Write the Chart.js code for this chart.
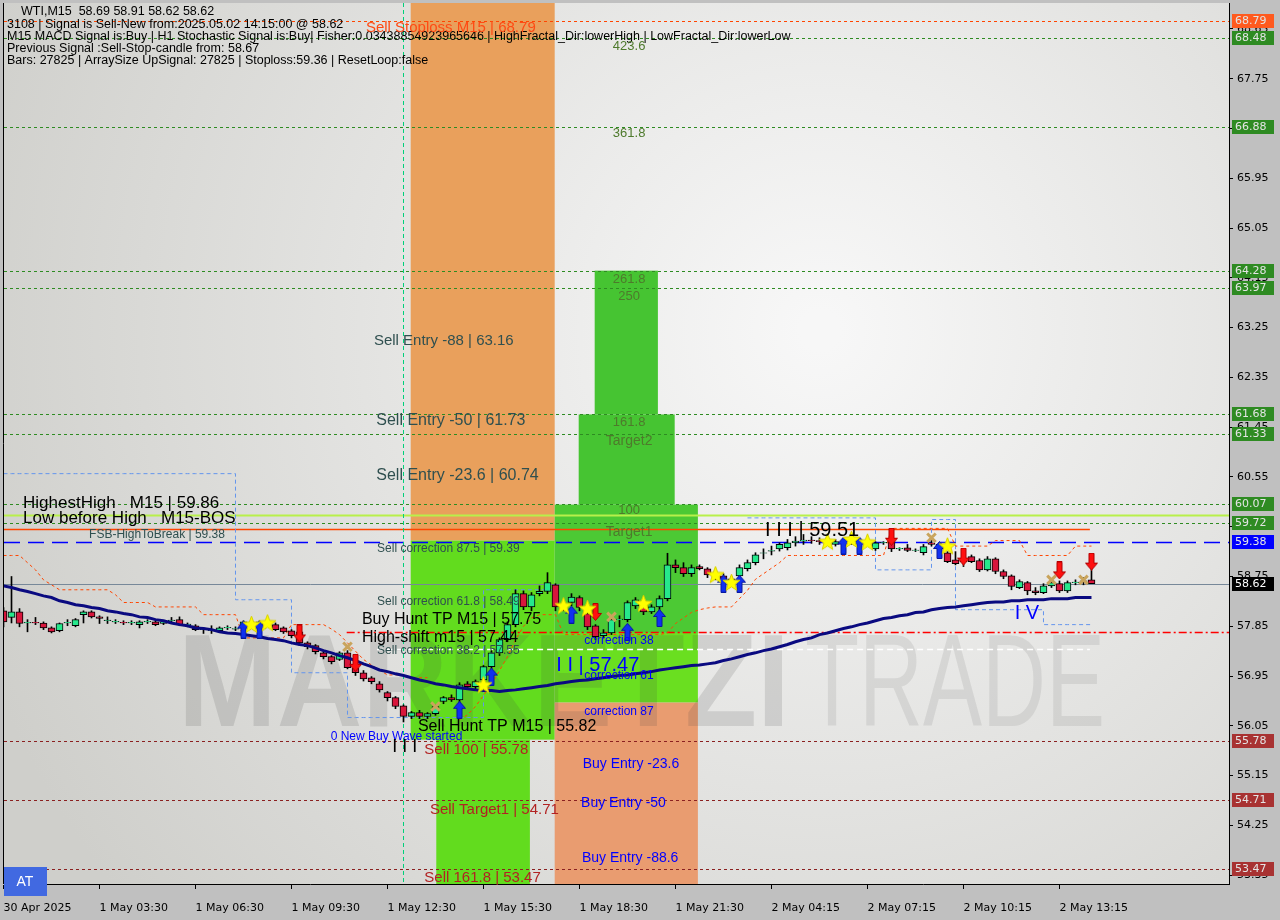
<!DOCTYPE html>
<html><head><meta charset="utf-8">
<script src="https://cdn.jsdelivr.net/npm/chart.js@4.4.1/dist/chart.umd.min.js"></script>
<style>html,body{margin:0;padding:0;background:#c0c0c0;overflow:hidden}#wrap{width:1280px;height:920px}</style>
</head><body><div id="wrap"><canvas id="c" width="1280" height="920"></canvas></div>
<script>
// ---------- DATA ----------
const opens=[58.13,58.01,58.11,57.91,57.92,57.91,57.82,57.77,57.91,57.86,
58.06,58.11,58.02,57.95,57.93,57.92,57.91,57.88,57.93,57.93,
57.90,57.95,57.97,57.88,57.86,57.79,57.77,57.77,57.82,57.80,
57.84,57.90,57.88,57.93,57.88,57.82,57.77,57.75,57.55,57.50,
57.37,57.30,57.25,57.37,57.10,57.01,56.92,56.81,56.65,56.56,
56.41,56.22,56.29,56.22,56.27,56.49,56.56,56.52,56.81,56.76,
56.88,57.12,57.37,57.61,57.88,58.44,58.20,58.44,58.48,58.60,
58.22,58.28,58.37,58.08,57.86,57.68,57.73,57.97,57.97,58.22,
58.20,58.11,58.20,58.35,58.96,58.91,58.80,58.93,58.89,58.76,
58.76,58.69,58.76,58.89,59.00,59.17,59.21,59.25,59.27,59.36,
59.39,59.41,59.40,59.38,59.33,59.38,59.37,59.40,59.38,59.25,
59.36,59.38,59.25,59.27,59.22,59.18,59.36,59.25,59.18,59.05,
59.05,59.11,59.04,58.87,59.07,58.84,58.76,58.55,58.64,58.49,
58.46,58.58,58.62,58.49,58.64,58.65,58.69];
const highs=[58.19,58.75,58.17,57.97,58.01,57.93,57.84,57.91,57.97,57.99,
58.13,58.13,58.04,58.02,57.97,57.95,57.95,57.95,57.97,57.95,
57.95,58.01,58.02,57.91,57.88,57.82,57.86,57.84,57.86,57.84,
57.95,57.97,57.95,57.99,57.91,57.84,57.79,57.77,57.57,57.52,
57.39,57.32,57.39,57.41,57.12,57.05,56.94,56.85,56.67,56.58,
56.43,56.31,56.33,56.29,56.43,56.58,56.61,56.83,56.85,56.88,
57.14,57.41,57.64,57.93,58.51,58.49,58.46,58.58,58.82,58.62,
58.29,58.44,58.40,58.10,57.88,57.79,58.00,58.04,58.31,58.37,
58.26,58.24,58.40,59.17,59.05,59.00,58.96,58.96,58.91,58.82,
58.80,58.75,58.96,59.05,59.18,59.25,59.30,59.36,59.42,59.47,
59.51,59.47,59.45,59.44,59.42,59.43,59.44,59.43,59.42,59.38,
59.38,59.42,59.27,59.33,59.25,59.33,59.40,59.35,59.20,59.20,
59.07,59.14,59.07,59.11,59.09,58.87,58.78,58.69,58.66,58.55,
58.62,58.67,58.67,58.67,58.69,58.73,58.91];
const lows=[57.84,57.91,57.84,57.75,57.88,57.79,57.73,57.75,57.86,57.84,
57.91,58.00,57.90,57.90,57.90,57.88,57.88,57.82,57.90,57.86,
57.88,57.93,57.86,57.84,57.77,57.72,57.72,57.75,57.79,57.77,
57.82,57.86,57.84,57.88,57.77,57.72,57.64,57.50,57.44,57.35,
57.26,57.17,57.23,57.08,56.96,56.86,56.81,56.66,56.50,56.36,
56.12,56.18,56.18,56.18,56.24,56.45,56.49,56.40,56.74,56.72,
56.85,57.08,57.32,57.57,57.84,58.15,58.13,58.40,58.44,58.13,
58.13,58.22,58.13,57.79,57.61,57.64,57.70,57.84,57.93,58.17,
58.06,58.08,58.15,58.31,58.82,58.75,58.75,58.87,58.73,58.69,
58.64,58.62,58.73,58.85,58.96,59.07,59.14,59.21,59.23,59.30,
59.33,59.35,59.33,59.32,59.30,59.32,59.33,59.33,59.32,59.22,
59.33,59.20,59.22,59.20,59.20,59.14,59.30,59.20,59.00,58.96,
58.93,59.00,58.84,58.85,58.80,58.71,58.51,58.53,58.42,58.42,
58.44,58.55,58.46,58.46,58.60,58.60,58.62];
const closes=[57.93,58.11,57.90,57.92,57.91,57.82,57.75,57.90,57.92,57.97,
58.11,58.02,57.99,57.96,57.94,57.91,57.92,57.93,57.94,57.88,
57.93,57.96,57.88,57.89,57.79,57.80,57.78,57.82,57.83,57.81,
57.93,57.88,57.93,57.94,57.79,57.75,57.68,57.55,57.48,57.39,
57.30,57.21,57.37,57.10,57.01,56.90,56.85,56.70,56.56,56.40,
56.22,56.29,56.22,56.27,56.40,56.56,56.52,56.79,56.76,56.85,
57.12,57.37,57.61,57.88,58.44,58.20,58.42,58.48,58.64,58.20,
58.24,58.38,58.19,57.84,57.66,57.73,57.97,57.98,58.28,58.33,
58.11,58.20,58.35,58.96,58.91,58.80,58.91,58.89,58.78,58.75,
58.69,58.71,58.91,59.00,59.14,59.18,59.22,59.33,59.36,59.39,
59.41,59.40,59.38,59.40,59.38,59.37,59.40,59.38,59.36,59.36,
59.37,59.25,59.26,59.22,59.23,59.29,59.33,59.33,59.02,58.98,
59.02,59.02,58.87,59.07,58.84,58.75,58.57,58.66,58.49,58.46,
58.58,58.64,58.49,58.64,58.65,58.67,58.62];
const maValues=[58.58,58.55,58.51,58.48,58.44,58.40,58.37,58.31,58.28,58.24,
58.22,58.19,58.17,58.13,58.11,58.08,58.06,58.02,58.01,57.97,
57.95,57.91,57.88,57.86,57.82,57.81,57.79,57.75,57.73,57.72,
57.70,57.68,57.66,57.63,57.61,57.59,57.55,57.52,57.50,57.46,
57.41,57.37,57.32,57.28,57.23,57.17,57.12,57.06,57.03,56.99,
56.96,56.92,56.88,56.85,56.81,56.79,56.76,56.74,56.72,56.70,
56.69,56.69,56.67,56.69,56.70,56.72,56.74,56.76,56.78,56.81,
56.83,56.85,56.87,56.88,56.90,56.92,56.94,56.96,56.97,56.99,
57.01,57.03,57.06,57.08,57.10,57.12,57.14,57.15,57.17,57.19,
57.23,57.26,57.30,57.34,57.37,57.41,57.44,57.48,57.52,57.57,
57.61,57.64,57.70,57.73,57.77,57.81,57.84,57.88,57.91,57.95,
57.99,58.01,58.04,58.06,58.10,58.11,58.15,58.17,58.19,58.20,
58.22,58.24,58.26,58.28,58.29,58.29,58.31,58.31,58.33,58.33,
58.33,58.35,58.35,58.35,58.37,58.37,58.37];
const envelopeValues=[59.13,59.13,59.13,59.00,58.87,58.69,58.60,58.51,58.51,58.51,
58.51,58.51,58.51,58.51,58.42,58.28,58.28,58.28,58.28,58.20,
58.20,58.20,58.20,58.20,58.20,58.06,58.06,58.06,58.06,58.06,
57.64,57.64,57.64,57.64,57.64,57.64,57.88,57.88,57.88,57.88,
57.88,57.80,57.70,57.55,57.40,57.25,57.15,57.06,56.97,56.97,
56.97,56.92,56.92,56.92,null,null,null,56.16,56.25,56.40,
56.60,56.80,57.05,57.30,57.60,57.85,58.00,58.06,58.06,58.06,
57.70,57.70,57.70,57.70,57.70,57.70,57.70,57.70,57.70,57.70,
57.70,57.70,57.70,57.73,57.90,58.00,58.10,58.15,58.18,58.20,
58.20,58.20,58.35,58.50,58.70,58.80,58.90,59.00,59.13,59.13,
59.13,59.13,59.13,59.13,59.13,59.13,59.13,59.13,59.13,59.13,
59.13,59.62,59.62,59.62,59.62,59.62,59.62,59.62,59.62,59.30,
59.30,59.30,59.30,59.30,59.40,59.40,59.40,59.40,59.13,59.13,
59.13,59.13,59.13,59.13,59.30,59.30,59.30];
const fractalValues=[60.61,60.61,60.61,60.61,60.61,60.61,60.61,60.61,60.61,60.61,
60.61,60.61,60.61,60.61,60.61,60.61,60.61,60.61,60.61,60.61,
60.61,60.61,60.61,60.61,60.61,60.61,60.61,60.61,60.61,60.61,
58.33,58.33,58.33,58.33,58.33,58.33,58.33,57.01,57.01,57.01,
57.01,57.01,57.01,57.01,56.20,56.20,56.20,56.20,56.20,56.20,
56.20,56.20,56.20,56.20,56.20,56.20,56.20,56.20,56.20,56.20,
56.20,58.51,58.51,58.51,58.51,58.51,58.51,58.51,58.51,58.51,
null,null,null,null,null,null,null,null,null,null,
null,null,null,null,null,null,null,null,null,null,
null,null,null,59.81,59.81,59.81,59.81,59.81,59.81,59.81,
59.81,59.81,59.81,59.81,59.81,59.81,59.81,59.81,59.81,59.81,
58.87,58.87,58.87,58.87,58.87,58.87,58.87,59.78,59.78,59.78,
58.15,58.15,58.15,58.15,58.15,58.15,58.15,58.15,58.15,58.15,
58.15,57.88,57.88,57.88,57.88,57.88,57.88];
// signal markers: bar index and price
const starBars=[31,33,60,70,73,80,89,91,103,106,108,118];
const starPrices=[57.88,57.91,56.79,58.22,58.17,58.26,58.78,58.64,59.38,59.42,59.37,59.30];
const buyArrowBars=[30,32,57,61,71,78,82,90,92,105,107,117];
const buyArrowPrices=[57.79,57.79,56.34,56.94,58.06,57.75,58.00,58.62,58.62,59.31,59.31,59.23];
const sellArrowBars=[37,44,74,111,120,132,136];
const sellArrowPrices=[57.72,57.19,58.11,59.47,59.11,58.86,59.02];
const crossBars=[43,54,76,116,131,135];
const crossPrices=[57.48,56.40,58.02,59.45,58.69,58.69];
// axis ticks
const xTickBars=[0,12,24,36,48,60,72,84,96,108,120,132];
const xTickLabels=['30 Apr 2025','1 May 03:30','1 May 06:30','1 May 09:30','1 May 12:30','1 May 15:30','1 May 18:30','1 May 21:30','2 May 04:15','2 May 07:15','2 May 10:15','2 May 13:15'];
const yTickValues=[53.35,54.25,55.15,56.05,56.95,57.85,58.75,59.65,60.55,61.45,62.35,63.25,64.15,65.05,65.95,66.85,67.75,68.65];
// price levels
const levelPrices=[68.79,68.48,66.88,64.28,63.97,61.68,61.33,60.07,59.86,59.72,59.60,59.38,58.62,57.75,57.44,55.78,54.71,53.47];
const levelFrom=[-1,-1,-1,-1,-1,-1,-1,-1,-1,-1,-1,-1,-1,42.9,46.7,-1,-1,-1];
const levelTo=[999,999,999,999,999,999,999,999,999,999,135.8,999,999,999,135.8,999,999,999];
const levelKind=['stop','g','g','g','g','g','g','g','hh','g','fsb','blue','price','reddot','white','sell','sell','sell'];
// price boxes on the right axis
const boxPrices=[68.79,68.48,66.88,64.28,63.97,61.68,61.33,60.07,59.72,59.38,58.62,55.78,54.71,53.47];
const boxKind=['stop','g','g','g','g','g','g','g','g','blue','price','sell','sell','sell'];
// zones [fromBar, toBar, low, high]
const zoneFrom=[50.9,50.9,54.1,68.9,68.9,71.9,73.9,68.9];
const zoneTo=[68.9,68.9,65.8,86.8,86.8,83.9,81.8,86.8];
const zoneLow=[59.40,55.80,53.0,57.73,56.47,60.05,61.68,53.0];
const zoneHigh=[69.5,59.40,55.80,60.05,57.73,61.68,64.28,56.47];
const zoneKind=['sellbox','lime','lime','green','lime2','green2','green2','salmon'];
const waveStartBar=50;
// text notes anchored at bar index / price
const notes=[
 [45.3,68.67,'Sell Stoploss M15 | 68.79','stop',15,'left'],
 [78.2,68.34,'423.6','fib',13,'center'],
 [78.2,66.76,'361.8','fib',13,'center'],
 [78.2,64.12,'261.8','fib',13,'center'],
 [78.2,63.81,'250','fib',13,'center'],
 [46.3,63.01,'Sell Entry -88 | 63.16','slate',15,'left'],
 [46.6,61.57,'Sell Entry -50 | 61.73','slate',16,'left'],
 [78.2,61.53,'161.8','fib',13,'center'],
 [78.2,61.19,'Target2','fib',14,'center'],
 [46.6,60.57,'Sell Entry -23.6 | 60.74','slate',16,'left'],
 [78.2,59.94,'100','fib',13,'center'],
 [78.2,59.56,'Target1','fib',14,'center'],
 [2.44,60.08,'HighestHigh   M15 | 59.86','black',17,'left'],
 [2.44,59.81,'Low before High   M15-BOS','black',17,'left'],
 [10.7,59.51,'FSB-HighToBreak | 59.38','slate',12,'left'],
 [46.7,59.25,'Sell correction 87.5 | 59.39','slate',12,'left'],
 [95.2,59.58,'I I I | 59.51','black',20,'left'],
 [46.7,58.29,'Sell correction 61.8 | 58.49','slate',12,'left'],
 [44.8,57.97,'Buy Hunt TP M15 | 57.75','black',16,'left'],
 [44.8,57.64,'High-shift m15 | 57.44','black',16,'left'],
 [46.7,57.41,'Sell correction 38.2 | 57.55','slate',12,'left'],
 [72.6,57.59,'correction 38','blue',12,'left'],
 [69.1,57.14,'I I | 57.47','blue',20,'left'],
 [72.6,56.96,'correction 61','blue',12,'left'],
 [72.6,56.31,'correction 87','blue',12,'left'],
 [51.8,56.03,'Sell Hunt TP M15 | 55.82','black',16,'left'],
 [40.9,55.85,'0 New Buy Wave started','blue',12,'left'],
 [48.6,55.67,'I I I','black',18,'left'],
 [52.6,55.62,'Sell 100 | 55.78','sell',15,'left'],
 [72.4,55.35,'Buy Entry -23.6','blue',14,'left'],
 [72.2,54.66,'Buy Entry -50','blue',14,'left'],
 [53.3,54.53,'Sell Target1 | 54.71','sell',15,'left'],
 [72.3,53.65,'Buy Entry -88.6','blue',14,'left'],
 [52.6,53.30,'Sell 161.8 | 53.47','sell',15,'left'],
 [126.4,58.08,'I V','blue',20,'left']
];
const infoLines=['3108 | Signal is Sell-New from:2025.05.02 14:15:00 @ 58.62',
 'M15 MACD Signal is:Buy | H1 Stochastic Signal is:Buy| Fisher:0.03438854923965646 | HighFractal_Dir:lowerHigh | LowFractal_Dir:lowerLow',
 'Previous Signal :Sell-Stop-candle from: 58.67',
 'Bars: 27825 | ArraySize UpSignal: 27825 | Stoploss:59.36 | ResetLoop:false'];
const titleText='WTI,M15  58.69 58.91 58.62 58.62';

// ---------- STYLES ----------
const FONT='"Liberation Sans", Arial, sans-serif';
const AXFONT='"DejaVu Sans", sans-serif';
const textColors={stop:'#FF4A14',fib:'#4E7A2C',slate:'#2F4F4F',black:'#000000',blue:'#0000FF',sell:'#B22222'};
const levelStyles={
 stop:{c:'#FF4500',w:1,d:[3,3]}, g:{c:'#2E8B22',w:1,d:[3,3]}, hh:{c:'#B8F04A',w:2,d:[]},
 fsb:{c:'#FF4500',w:1.5,d:[]}, blue:{c:'#0000FF',w:1.5,d:[16,8]}, price:{c:'#778899',w:1,d:[]},
 reddot:{c:'#FF0000',w:1.5,d:[8,3,2,3]}, white:{c:'#FFFFFF',w:1.5,d:[6,4]}, sell:{c:'#8B2020',w:1,d:[3,3]}
};
const boxStyles={stop:'#FF5A1E',g:'#2E8B22',blue:'#0000FF',price:'#000000',sell:'#A83232'};
const zoneColors={sellbox:'#E9A05C',lime:'#62DC1E',lime2:'#6ADF20',green:'#4CC934',green2:'#46C432',salmon:'#E99C70'};

function makeStar(){const c=document.createElement('canvas');c.width=19;c.height=19;const g=c.getContext('2d');
 g.beginPath();for(let k=0;k<10;k++){const r=k%2?3.8:9;const a=-Math.PI/2+k*Math.PI/5;g.lineTo(9.5+r*Math.cos(a),10+r*Math.sin(a));}
 g.closePath();g.fillStyle='#FFFF00';g.fill();g.strokeStyle='#D8D000';g.lineWidth=1;g.stroke();return c;}
function makeArrow(up,fill,stroke){const c=document.createElement('canvas');c.width=13;c.height=18;const g=c.getContext('2d');
 g.save();if(!up){g.translate(0,18);g.scale(1,-1);}
 g.beginPath();g.moveTo(6.5,0.5);g.lineTo(12.5,7.5);g.lineTo(9,7.5);g.lineTo(9,17.5);g.lineTo(4,17.5);g.lineTo(4,7.5);g.lineTo(0.5,7.5);g.closePath();
 g.fillStyle=fill;g.fill();g.strokeStyle=stroke;g.lineWidth=1;g.stroke();g.restore();return c;}
const starImg=makeStar();
const upImg=makeArrow(true,'#1030F0','#0818A0');
const downImg=makeArrow(false,'#FF1010','#B00000');

const idx=opens.map((_,i)=>i);
const pts=(bars,vals)=>bars.map((b,k)=>({x:b,y:vals[k]}));

const drawPlugin={
 id:'mtdraw',
 beforeDraw(chart){
  const {ctx,chartArea:a}=chart;
  ctx.save();
  ctx.fillStyle='#c0c0c0';ctx.fillRect(0,0,chart.width,chart.height);
  const g=ctx.createRadialGradient(820,330,20,820,330,900);
  g.addColorStop(0,'#f7f7f7');g.addColorStop(1,'#cfcfcb');
  ctx.fillStyle=g;ctx.fillRect(a.left,a.top,a.right-a.left,a.bottom-a.top);
  ctx.restore();
 },
 beforeDatasetsDraw(chart){
  const {ctx,chartArea:a,scales:{x,y}}=chart;
  ctx.save();
  ctx.beginPath();ctx.rect(a.left,a.top,a.right-a.left,a.bottom-a.top);ctx.clip();
  zoneFrom.forEach((f,k)=>{
   const x0=x.getPixelForValue(f),x1=x.getPixelForValue(zoneTo[k]);
   const y0=y.getPixelForValue(zoneHigh[k]),y1=y.getPixelForValue(zoneLow[k]);
   ctx.fillStyle=zoneColors[zoneKind[k]];ctx.fillRect(x0,y0,x1-x0,y1-y0);
  });
  ctx.font='bold 132px '+FONT;ctx.textBaseline='alphabetic';ctx.textAlign='left';
  let w=ctx.measureText('MARKETZI').width;
  ctx.save();ctx.translate(178,726);ctx.scale(612/w,1);ctx.fillStyle='rgba(70,70,70,0.15)';ctx.fillText('MARKETZI',0,0);ctx.restore();
  ctx.font='132px '+FONT;w=ctx.measureText('TRADE').width;
  ctx.save();ctx.translate(805,726);ctx.scale(300/w,1);ctx.fillStyle='rgba(70,70,70,0.11)';ctx.fillText('TRADE',0,0);ctx.restore();
  levelPrices.forEach((p,k)=>{
   const s=levelStyles[levelKind[k]];const py=Math.round(y.getPixelForValue(p))+0.5;
   const x0=Math.max(a.left,x.getPixelForValue(levelFrom[k])),x1=Math.min(a.right,x.getPixelForValue(levelTo[k]));
   ctx.strokeStyle=s.c;ctx.lineWidth=s.w;ctx.setLineDash(s.d);
   ctx.beginPath();ctx.moveTo(x0,py);ctx.lineTo(x1,py);ctx.stroke();
  });
  const vx=Math.round(x.getPixelForValue(waveStartBar))+0.5;
  ctx.strokeStyle='#00D07A';ctx.lineWidth=1;ctx.setLineDash([4,3]);
  ctx.beginPath();ctx.moveTo(vx,a.top);ctx.lineTo(vx,a.bottom);ctx.stroke();
  ctx.restore();
 },
 afterDatasetsDraw(chart){
  const {ctx,chartArea:a,scales:{x,y}}=chart;
  ctx.save();
  ctx.textBaseline='middle';
  ctx.textAlign='left';ctx.fillStyle='#000';ctx.font='12.5px '+FONT;
  ctx.fillText(titleText,21,12);
  infoLines.forEach((t,k)=>ctx.fillText(t,7,25+12*k));
  notes.forEach(n=>{
   ctx.font=n[4]+'px '+FONT;ctx.fillStyle=textColors[n[3]];ctx.textAlign=n[5];
   ctx.fillText(n[2],x.getPixelForValue(n[0]),y.getPixelForValue(n[1]));
  });
  ctx.restore();
 },
 afterDraw(chart){
  const {ctx,chartArea:a,scales:{y}}=chart;
  ctx.save();
  ctx.strokeStyle='#000';ctx.lineWidth=1;ctx.setLineDash([]);
  ctx.beginPath();ctx.moveTo(a.left-0.5,a.top);ctx.lineTo(a.left-0.5,a.bottom);ctx.stroke();
  ctx.font='11px '+AXFONT;ctx.textBaseline='middle';ctx.textAlign='left';
  boxPrices.forEach((p,k)=>{
   const py=Math.round(y.getPixelForValue(p));
   ctx.fillStyle=boxStyles[boxKind[k]];ctx.fillRect(a.right+3,py-7,42,14);
   ctx.fillStyle=boxKind[k]==='price'?'#FFFFFF':'#E4E4E4';
   ctx.fillText(p.toFixed(2),a.right+6,py+0.5);
  });
  ctx.fillStyle='#4169E1';ctx.fillRect(a.left,867,43,29);
  ctx.fillStyle='#FFFFFF';ctx.font='14px '+FONT;ctx.textAlign='center';ctx.fillText('AT',a.left+21,882);
  ctx.restore();
 }
};

new Chart(document.getElementById('c'),{
 type:'bar',
 data:{datasets:[
  {type:'line',label:'stars',data:pts(starBars,starPrices),showLine:false,pointStyle:starImg,pointRadius:6,order:0},
  {type:'line',label:'buy',data:pts(buyArrowBars,buyArrowPrices),showLine:false,pointStyle:upImg,pointRadius:6,order:0},
  {type:'line',label:'sell',data:pts(sellArrowBars,sellArrowPrices),showLine:false,pointStyle:downImg,pointRadius:6,order:0},
  {type:'line',label:'cross',data:pts(crossBars,crossPrices),showLine:false,pointStyle:'crossRot',pointRadius:6,pointBorderWidth:3,pointBorderColor:'#C9A45C',order:0},
  {type:'line',label:'MA',data:idx.map(i=>({x:i,y:maValues[i]})),borderColor:'#0A0A80',borderWidth:3,pointRadius:0,order:1},
  {type:'bar',label:'body',data:idx.map(i=>({x:i,y:[opens[i],closes[i]]})),backgroundColor:idx.map(i=>closes[i]>=opens[i]?'#26E88C':'#D8163C'),borderColor:'#000',borderWidth:1,borderSkipped:false,barThickness:7,grouped:false,order:2},
  {type:'bar',label:'wick',data:idx.map(i=>({x:i,y:[lows[i],highs[i]]})),backgroundColor:'#000',barThickness:1,grouped:false,order:3},
  {type:'line',label:'env',data:idx.map(i=>({x:i,y:envelopeValues[i]})),borderColor:'#FF4500',borderWidth:1,borderDash:[3,3],pointRadius:0,spanGaps:false,order:4},
  {type:'line',label:'fractal',data:idx.map(i=>({x:i,y:fractalValues[i]})),borderColor:'#6495ED',borderWidth:1,borderDash:[4,3],pointRadius:0,stepped:'after',spanGaps:false,order:5}
 ]},
 options:{
  responsive:false,animation:false,devicePixelRatio:1,
  layout:{autoPadding:false,padding:{left:4,top:3,right:0,bottom:0}},
  plugins:{legend:{display:false},tooltip:{enabled:false}},
  scales:{
   x:{type:'linear',min:0.0625,max:153.19,offset:false,
      grid:{drawOnChartArea:false,drawTicks:true,tickLength:5,color:'#000',offset:false},
      border:{display:true,color:'#000'},
      afterBuildTicks:s=>{s.ticks=xTickBars.map(v=>({value:v}));},
      afterFit:s=>{s.height=36;s.paddingLeft=0;s.paddingRight=0;},
      ticks:{autoSkip:false,maxRotation:0,align:'start',padding:13,color:'#000',font:{family:'DejaVu Sans',size:11},
        callback:v=>{const k=xTickBars.indexOf(v);return k>=0?xTickLabels[k]:'';}}},
   y:{type:'linear',position:'right',min:53.19,max:69.12,
      grid:{drawOnChartArea:false,drawTicks:true,tickLength:4,color:'#000'},
      border:{display:true,color:'#000'},
      afterBuildTicks:s=>{s.ticks=yTickValues.map(v=>({value:v}));},
      afterFit:s=>{s.width=51;s.paddingTop=0;s.paddingBottom=0;},
      ticks:{padding:4,color:'#000',font:{family:'DejaVu Sans',size:11},callback:v=>v.toFixed(2)}}
  }
 },
 plugins:[drawPlugin]
});
</script></body></html>
